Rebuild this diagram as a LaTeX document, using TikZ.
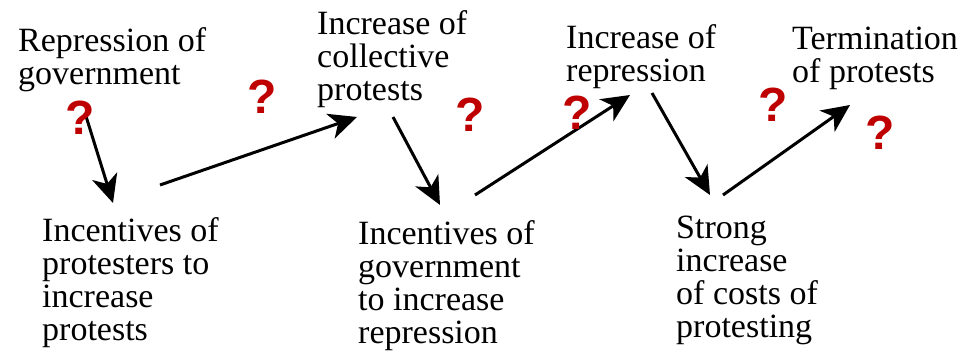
\documentclass[tikz,border=0pt]{standalone}
\usepackage{fontspec}
\setmainfont{Liberation Serif}
\newfontfamily\lblfont{Liberation Serif}
\newfontfamily\qfont{Liberation Sans}
\definecolor{qred}{rgb}{0.75,0.0,0.0}
\usetikzlibrary{arrows.meta}

\begin{document}
\begin{tikzpicture}[x=1pt,y=-1pt,
    lbl/.style={anchor=base west,inner sep=0pt,align=left,font=\lblfont\fontsize{34}{33}\selectfont},
    qm/.style={text=qred,inner sep=0pt,font=\qfont\bfseries\fontsize{48}{48}\selectfont},
    arr/.style={-{Stealth[length=28pt,width=26pt,inset=8pt]},line width=3pt}]
  \useasboundingbox (0,0) rectangle (974,351);
  % upper row (placed by last baseline)
  \node[lbl] (repgov) at (18,84) {Repression of\\government};
  \node[lbl] (incprot) at (317,100) {Increase of\\collective\\protests};
  \node[lbl] (increp) at (566,81) {Increase of\\repression};
  \node[lbl] (term) at (792,82) {Termination\\of protests};
  % lower row
  \node[lbl] (incent1) at (42,340) {Incentives of\\protesters to\\increase\\protests};
  \node[lbl] (incent2) at (358,343) {Incentives of\\government\\to increase\\repression};
  \node[lbl] (costs) at (676,337) {Strong\\increase\\of costs of\\protesting};
  % arrow ends
  \coordinate (a1s) at (85,113);  \coordinate (a1e) at (113,203);
  \coordinate (a2s) at (160,185); \coordinate (a2e) at (357,117);
  \coordinate (a3s) at (393,117); \coordinate (a3e) at (440,205);
  \coordinate (a4s) at (475,195); \coordinate (a4e) at (630,95);
  \coordinate (a5s) at (652,93);  \coordinate (a5e) at (710,195);
  \coordinate (a6s) at (723,195); \coordinate (a6e) at (850,105);
  \draw[arr] (a1s)--(a1e); \draw[arr] (a2s)--(a2e); \draw[arr] (a3s)--(a3e);
  \draw[arr] (a4s)--(a4e); \draw[arr] (a5s)--(a5e); \draw[arr] (a6s)--(a6e);
  % question marks
  \node[qm] (q1) at (80,118) {?};
  \node[qm] (q2) at (262,97) {?};
  \node[qm] (q3) at (470,115) {?};
  \node[qm] (q4) at (577,113) {?};
  \node[qm] (q5) at (773,105) {?};
  \node[qm] (q6) at (880,133) {?};
\end{tikzpicture}
\end{document}
